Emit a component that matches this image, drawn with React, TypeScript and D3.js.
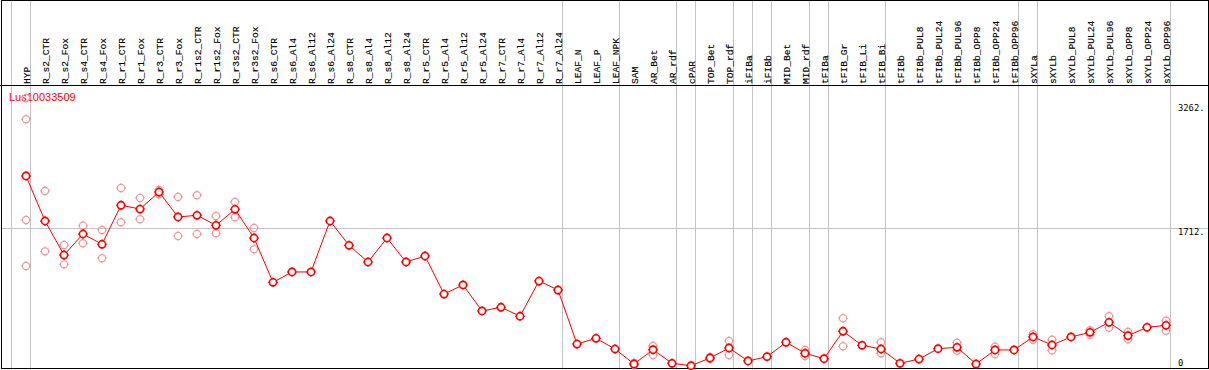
import React from "react";
import * as d3 from "d3";

const samples = [
  "HYP", "R_s2_CTR", "R_s2_Fox", "R_s4_CTR", "R_s4_Fox", "R_r1_CTR", "R_r1_Fox", "R_r3_CTR", "R_r3_Fox",
  "R_r1s2_CTR", "R_r1s2_Fox", "R_r3s2_CTR", "R_r3s2_Fox", "R_s6_CTR", "R_s6_Al4", "R_s6_Al12", "R_s6_Al24",
  "R_s8_CTR", "R_s8_Al4", "R_s8_Al12", "R_s8_Al24", "R_r5_CTR", "R_r5_Al4", "R_r5_Al12", "R_r5_Al24",
  "R_r7_CTR", "R_r7_Al4", "R_r7_Al12", "R_r7_Al24", "LEAF_N", "LEAF_P", "LEAF_NPK", "SAM", "AR_Bet", "AR_rdf",
  "cPAR", "TOP_Bet", "TOP_rdf", "iFIBa", "iFIBb", "MID_Bet", "MID_rdf", "tFIBa", "tFIB_Gr", "tFIB_Li", "tFIB_Bi",
  "tFIBb", "tFIBb_PUL8", "tFIBb_PUL24", "tFIBb_PUL96", "tFIBb_OPP8", "tFIBb_OPP24", "tFIBb_OPP96",
  "sXYLa", "sXYLb", "sXYLb_PUL8", "sXYLb_PUL24", "sXYLb_PUL96", "sXYLb_OPP8", "sXYLb_OPP24", "sXYLb_OPP96",
];

const groupStarts = [
  "HYP", "R_s2_CTR", "LEAF_N", "SAM", "cPAR", "TOP_Bet", "iFIBa", "iFIBb", "MID_Bet", "tFIBa", "tFIB_Gr",
  "tFIBb", "sXYLa", "sXYLb",
];

const meanValues = [
  2364, 1803, 1379, 1641, 1513, 1999, 1952, 2164, 1853, 1874, 1749, 1949, 1591,
  1039, 1168, 1168, 1803, 1500, 1292, 1591, 1292, 1367, 893, 1006, 682, 728, 616, 1055, 943,
  270, 341, 208, 21, 199, 30, 0, 96, 221, 59, 112, 292, 155, 87, 429, 254, 208,
  30, 83, 212, 229, 21, 196, 196, 358, 258, 358, 416, 541, 374, 478, 503,
];

const replicateValues: number[][] = [
  [3336, 3070, 1815, 1242],
  [2177, 1425], [1504, 1263], [1744, 1525], [1691, 1338],
  [2214, 1787], [2090, 1824], [2189, 2136], [2102, 1616],
  [2123, 1641], [1865, 1650], [2040, 1849], [1716, 1450],
  [], [], [], [], [], [], [], [], [], [], [], [], [], [], [], [],
  [], [], [],
  [35, 8], [245, 133], [], [], [110, 82], [308, 133], [], [], [], [196, 121],
  [], [591, 242], [], [292, 155],
  [], [], [], [287, 187], [], [237, 146], [],
  [391, 324], [324, 192], [], [441, 386], [616, 473], [420, 329], [], [561, 436],
];

const geneName = "Lus10033509";
const yTickValues = [0, 1712, 3262];
const yTickLabels = ["0", "1712.", "3262."];

const W = 1209;
const H = 370;
const RED = "#ff0000";
const PINK = "#ef9a9a";
const GRID = "#c4c4c4";

function Marker({ cx, cy, color, sw, fill }: { cx: number; cy: number; color: string; sw: number; fill: string }) {
  const r = 3.6;
  const s = 1.4;
  return (
    <g>
      <circle cx={cx} cy={cy} r={r} fill={fill} stroke={color} strokeWidth={sw} />
      <line x1={cx} x2={cx} y1={cy - r - s} y2={cy - r + 0.5} stroke={color} strokeWidth={1} />
      <line x1={cx} x2={cx} y1={cy + r - 0.5} y2={cy + r + s} stroke={color} strokeWidth={1} />
      <line x1={cx - r - s} x2={cx - r + 0.5} y1={cy} y2={cy} stroke={color} strokeWidth={1} />
      <line x1={cx + r - 0.5} x2={cx + r + s} y1={cy} y2={cy} stroke={color} strokeWidth={1} />
    </g>
  );
}

export default function App() {
  const band = d3.scaleBand<string>().domain(samples).range([11, 1170]).padding(0);
  const px = (s: string) => (band(s) as number) + 15;
  const y = d3.scaleLinear().domain([0, 3262]).range([365.7, 103.9]);

  const line = d3
    .line<number>()
    .x((_, i) => px(samples[i]))
    .y((v) => y(v));

  return (
    <svg
      width={W}
      height={H}
      style={{ position: "absolute", left: 0, top: 0, background: "#fff" }}
    >
      <rect x={0} y={0} width={W} height={H} fill="#fff" />
      {yTickValues.slice(1, -1).map((v) => (
        <line key={"g" + v} x1={1} x2={W - 1} y1={Math.round(y(v)) + 0.5} y2={Math.round(y(v)) + 0.5} stroke={GRID} strokeWidth={1} />
      ))}
      {groupStarts.map((g) => (
        <line key={"v" + g} x1={(band(g) as number) + 0.5} x2={(band(g) as number) + 0.5} y1={0} y2={H} stroke={GRID} strokeWidth={1} />
      ))}
      <line x1={1170.5} x2={1170.5} y1={0} y2={H} stroke={GRID} strokeWidth={1} />
      {samples.map((s) => (
        <text
          key={"t" + s}
          transform={`translate(${px(s) + 3.6},84) rotate(-90)`}
          fontFamily="'Liberation Mono', 'DejaVu Sans Mono', monospace"
          fontSize={9.6}
          fill="#000"
          stroke="#000"
          strokeWidth={0.15}
        >
          {s}
        </text>
      ))}
      <line x1={0} x2={W} y1={85.5} y2={85.5} stroke="#000" strokeWidth={1} />
      <rect x={1.5} y={0.5} width={W - 2} height={368} fill="none" stroke="#000" strokeWidth={1} />
      {yTickValues.map((v, i) => (
        <text
          key={"y" + v}
          x={1178}
          y={Math.min(y(v) + 7, 366)}
          fontFamily="'DejaVu Sans Mono', monospace"
          fontSize={8.8}
          fill="#000"
        >
          {yTickLabels[i]}
        </text>
      ))}
      <text x={9} y={101} fill={RED} fontFamily="'Liberation Sans', Arial, sans-serif" fontSize={11}>
        {geneName}
      </text>
      {replicateValues.map((reps, i) =>
        reps.map((v, j) => (
          <Marker key={`r${i}_${j}`} cx={px(samples[i])} cy={y(v)} color={PINK} sw={1.2} fill="none" />
        ))
      )}
      <path d={line(meanValues) || ""} fill="none" stroke={RED} strokeWidth={1} />
      {meanValues.map((v, i) => (
        <Marker key={"m" + i} cx={px(samples[i])} cy={y(v)} color={RED} sw={1.6} fill="#fff" />
      ))}
    </svg>
  );
}
